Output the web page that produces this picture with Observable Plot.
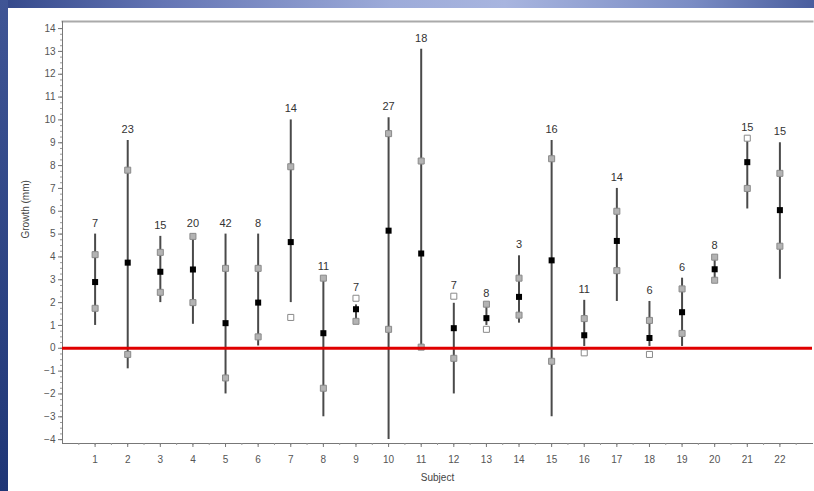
<!DOCTYPE html>
<html><head><meta charset="utf-8">
<script src="https://cdn.jsdelivr.net/npm/d3@7"></script>
<script src="https://cdn.jsdelivr.net/npm/@observablehq/plot@0.6"></script>
<style>
html,body{margin:0;padding:0;background:#fff;}
#wrap{position:relative;width:814px;height:491px;overflow:hidden;background:linear-gradient(to right,#33488a 0%,#6475b4 20%,#9dabd9 48%,#a8b5df 62%,#7a8cc4 85%,#4a5e9e 100%);}
#strip{position:absolute;left:0;top:0;width:8px;height:491px;background:linear-gradient(to bottom,#3f5595,#1f3676);}
#chart{position:absolute;left:8px;top:8px;width:806px;height:483px;background:#fff;}
</style></head><body>
<div id="wrap"><div id="strip"></div><div id="chart"></div></div>
<script>
// Data
const subjects = [1,2,3,4,5,6,7,8,9,10,11,12,13,14,15,16,17,18,19,20,21,22];
const counts   = [7,23,15,20,42,8,14,11,7,27,18,7,8,3,16,11,14,6,6,8,15,15];
const lo    = [1.0,-0.9,2.0,1.05,-2.0,0.1,2.0,-3.0,1.18,-4.0,0.05,-2.0,1.0,1.1,-3.0,0.08,2.05,0.08,0.08,2.9,6.1,3.02];
const hi    = [5.0,9.1,4.9,5.0,5.0,5.0,10.0,3.1,1.9,10.1,13.1,1.97,1.93,4.05,9.1,2.1,7.0,2.05,3.07,4.0,9.05,9.0];
const mean  = [2.9,3.75,3.35,3.45,1.1,2.0,4.65,0.66,1.71,5.15,4.15,0.88,1.32,2.25,3.85,0.57,4.7,0.45,1.58,3.46,8.15,6.05];
const upper = [4.1,7.8,4.2,4.9,3.5,3.5,7.95,3.07,2.19,9.4,8.2,2.28,1.93,3.07,8.3,1.3,6.0,1.22,2.6,3.99,9.2,7.66];
const lower = [1.75,-0.27,2.45,2.0,-1.3,0.5,1.35,-1.75,1.18,0.83,0.05,-0.44,0.83,1.45,-0.57,-0.2,3.4,-0.27,0.65,2.98,7.0,4.47];
const yTicks = [-4,-3,-2,-1,0,1,2,3,4,5,6,7,8,9,10,11,12,13,14];

const rows = subjects.map((s,i)=>({subject:s, n:counts[i], lo:lo[i], hi:hi[i], mean:mean[i], upper:upper[i], lower:lower[i]}));
const quart = rows.flatMap(r=>[
  {subject:r.subject, v:r.upper, open:(r.upper>r.hi||r.upper<r.lo)},
  {subject:r.subject, v:r.lower, open:(r.lower<r.lo||r.lower>r.hi)}
]);
const yMinor = d3.range(-4, 14.01, 0.25);
const xMinor = d3.range(0.5, 23, 0.5);

const chart = Plot.plot({
  width:806, height:483,
  marginLeft:54, marginRight:2, marginTop:13, marginBottom:48,
  style:{fontFamily:"'Liberation Sans', Arial, sans-serif", fontSize:"10px", color:"#555", background:"#fff", overflow:"visible"},
  x:{domain:[0,23], axis:null, label:null},
  y:{domain:[-4.17,14.31], axis:null, label:null},
  marks:[
    Plot.frame({anchor:"top", stroke:"#aaa", strokeWidth:2}),
    Plot.frame({anchor:"bottom", stroke:"#777"}),
    Plot.frame({anchor:"left", stroke:"#777"}),
    Plot.axisY({ticks:yMinor, tickSize:2, tickFormat:()=>"", stroke:"#999", label:null}),
    Plot.axisY({ticks:yTicks, tickSize:4, tickPadding:3, stroke:"#777", fill:"#555", label:null}),
    Plot.axisX({ticks:xMinor, tickSize:2, tickFormat:()=>"", stroke:"#999", label:null}),
    Plot.axisX({ticks:subjects, tickSize:4, tickPadding:8, stroke:"#777", fill:"#555", label:null}),
    Plot.ruleX(rows, {x:"subject", y1:"lo", y2:"hi", stroke:"#4a4a4a", strokeWidth:2}),
    Plot.dot(quart.filter(d=>!d.open), {x:"subject", y:"v", symbol:"square", r:3.4, fill:"#b3b3b3", stroke:"#8a8a8a", strokeWidth:1}),
    Plot.dot(quart.filter(d=>d.open), {x:"subject", y:"v", symbol:"square", r:3.4, fill:"#fff", stroke:"#8a8a8a", strokeWidth:1}),
    Plot.dot(rows, {x:"subject", y:"mean", symbol:"square", r:3.4, fill:"#000"}),
    Plot.ruleY([0], {stroke:"#e00000", strokeWidth:3}),
    Plot.text(rows, {x:"subject", y:d=>Math.max(d.hi,d.upper), text:d=>String(d.n), dy:-11, fontSize:11, fill:"#333"}),
    Plot.text(["Subject"], {frameAnchor:"bottom", dy:37, fontSize:10, fill:"#444"}),
    Plot.text(["Growth (mm)"], {frameAnchor:"left", dx:-37, dy:6, rotate:-90, fontSize:10, fill:"#444"})
  ]
});
document.getElementById("chart").appendChild(chart);
</script>
</body></html>
